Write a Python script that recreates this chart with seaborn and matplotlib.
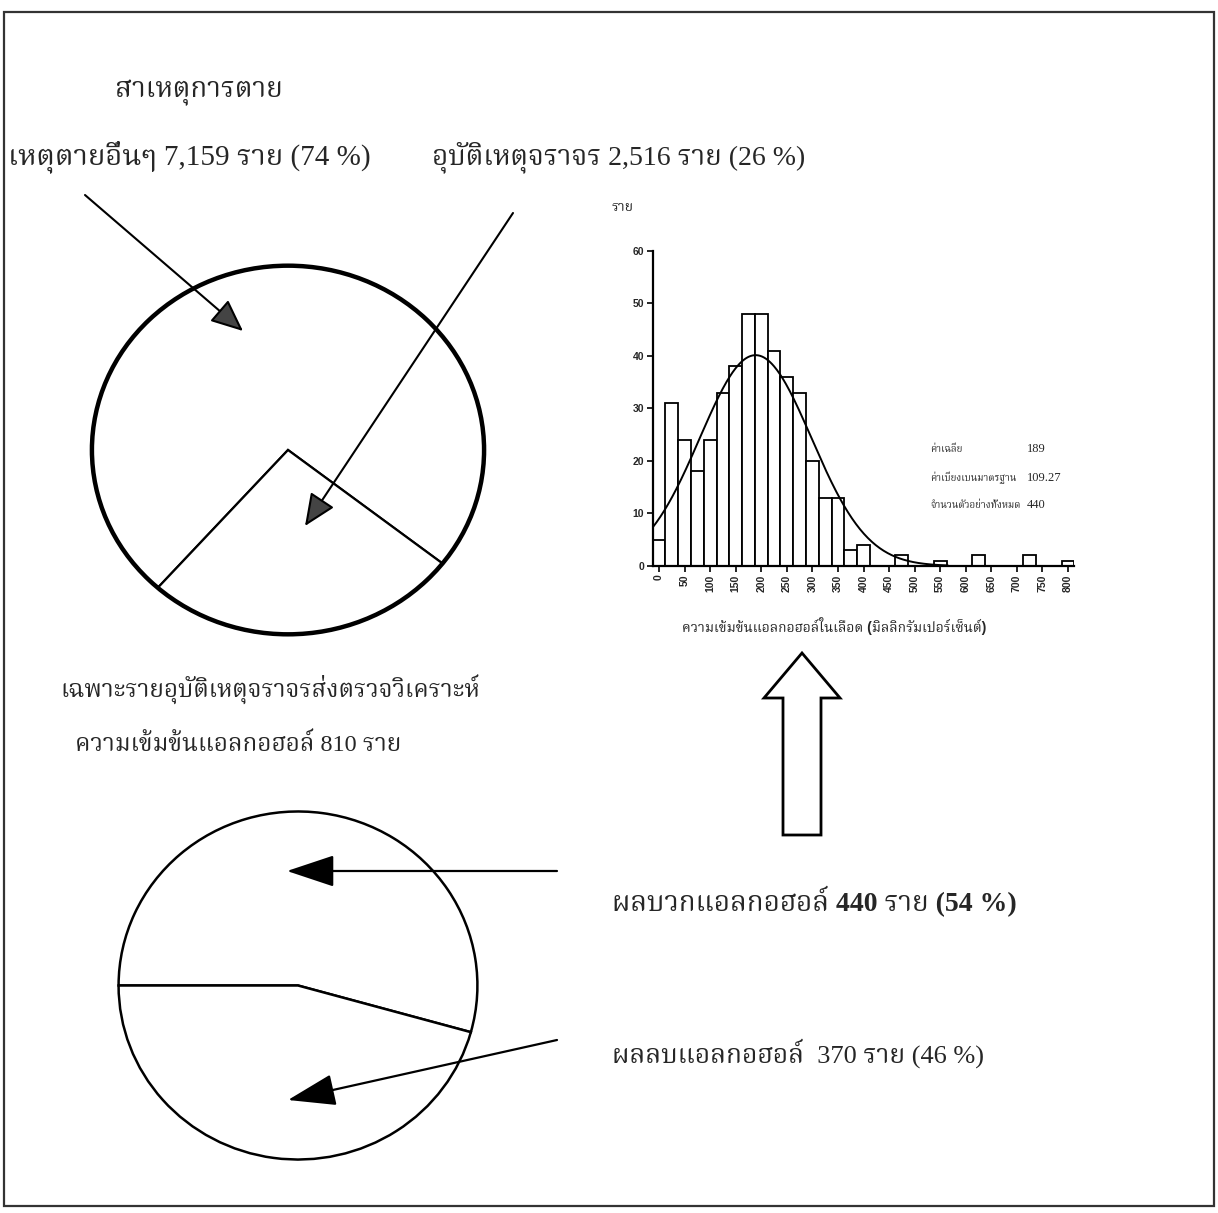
import numpy as np
import matplotlib
matplotlib.use("Agg")
import matplotlib.pyplot as plt
import seaborn as sns
from matplotlib import font_manager
from matplotlib.ft2font import FT2Font
from matplotlib.patches import Rectangle, Circle, FancyArrow

# causes of death (top pie)
death_labels = ["เหตุตายอื่นๆ", "อุบัติเหตุจราจร"]
death_counts = [7159, 2516]
death_pct = [74, 26]

# alcohol test among traffic deaths (bottom pie)
test_labels = ["ผลบวกแอลกอฮอล์", "ผลลบแอลกอฮอล์"]
test_counts = [440, 370]
test_pct = [54, 46]
tested_total = 810

# blood alcohol histogram: bar midpoints (mg%) and counts
bac_mid = [0, 25, 50, 75, 100, 125, 150, 175, 200, 225, 250, 275, 300, 325, 350, 375, 400,
           425, 450, 475, 500, 525, 550, 575, 600, 625, 650, 675, 700, 725, 750, 775, 800]
bac_count = [5, 31, 24, 18, 24, 33, 38, 48, 48, 41, 36, 33, 20, 13, 13, 3, 4,
             0, 0, 2, 0, 0, 1, 0, 0, 2, 0, 0, 0, 2, 0, 0, 1]
bac_mean = 189
bac_sd = 109.27
bac_n = 440
bin_w = 25

y_ticks = [0, 10, 20, 30, 40, 50, 60]
x_ticks = list(range(0, 801, 50))


def find_thai_font():
    # look for any installed font that has Thai glyphs
    names = []
    for f in font_manager.fontManager.ttflist:
        try:
            if 0x0E01 in FT2Font(f.fname).get_charmap():
                names.append(f.name)
        except Exception:
            pass
    for pref in ["Laksaman", "TH Sarabun New", "Norasi", "Kinnari", "Noto Serif Thai",
                 "Garuda", "Loma", "Noto Sans Thai"]:
        if pref in names:
            return pref
    return names[0] if names else "DejaVu Sans"


sns.set_theme(style="white")
thai = find_thai_font()
serif_fam = ["Liberation Serif", thai, "DejaVu Sans"]
sans_fam = ["Liberation Sans", thai, "DejaVu Sans"]
plt.rcParams["font.family"] = serif_fam

W, H = 1218, 1213
fig = plt.figure(figsize=(W / 100, H / 100), dpi=100)
fig.patch.set_facecolor("white")


def px_box(x0, y0, x1, y1):
    # pixel box (top-left origin) -> figure fraction rect
    return [x0 / W, 1 - y1 / H, (x1 - x0) / W, (y1 - y0) / H]


# ---- top pie ----
pax = fig.add_axes(px_box(88, 262, 488, 638))
pax.pie(death_counts, startangle=-38, counterclock=True, radius=1,
        wedgeprops=dict(facecolor="white", edgecolor="black", linewidth=1.6))
pax.add_patch(Circle((0, 0), 1, fill=False, ec="black", lw=3.2))
pax.set_aspect("auto")
pax.set_xlim(-1.02, 1.02)
pax.set_ylim(-1.02, 1.02)
pax.axis("off")

# ---- bottom pie ----
bax = fig.add_axes(px_box(115, 808, 481, 1163))
bax.pie(test_counts, startangle=180, counterclock=False, radius=1,
        wedgeprops=dict(facecolor="white", edgecolor="black", linewidth=1.8))
bax.set_aspect("auto")
bax.set_xlim(-1.02, 1.02)
bax.set_ylim(-1.02, 1.02)
bax.axis("off")

# ---- histogram ----
hax = fig.add_axes(px_box(652.6, 251, 1074.4, 566))
sns.histplot(x=bac_mid, weights=bac_count, binwidth=bin_w, binrange=(-12.5, 812.5),
             color="white", edgecolor="black", linewidth=1.3, alpha=1, ax=hax)
xs = np.linspace(-12.5, 565, 300)
ys = bac_n * bin_w * np.exp(-0.5 * ((xs - bac_mean) / bac_sd) ** 2) / (bac_sd * np.sqrt(2 * np.pi))
sns.lineplot(x=xs, y=ys, color="black", linewidth=1.4, ax=hax)
hax.set_xlim(-12.5, 812.5)
hax.set_ylim(0, 60)
hax.set_xticks(x_ticks)
hax.set_yticks(y_ticks)
hax.set_xticklabels([str(t) for t in x_ticks], rotation=90, family="Liberation Sans",
                    fontsize=7.5, fontweight="bold")
hax.set_yticklabels([str(t) for t in y_ticks], family="Liberation Sans",
                    fontsize=7.5, fontweight="bold")
hax.set_xlabel("")
hax.set_ylabel("")
hax.tick_params(direction="out", length=4, width=1.2, color="black", pad=2,
                bottom=True, left=True)
sns.despine(ax=hax)
for s in ["left", "bottom"]:
    hax.spines[s].set_color("black")
    hax.spines[s].set_linewidth(1.6)
hax.patch.set_alpha(0)

# ---- overlay for text, arrows and frame ----
ov = fig.add_axes([0, 0, 1, 1])
ov.set_xlim(0, W)
ov.set_ylim(H, 0)
ov.axis("off")
ov.patch.set_alpha(0)

ov.add_patch(Rectangle((4, 12), 1210, 1194, fill=False, ec="#333333", lw=1.6))

ov.text(115, 93, "สาเหตุการตาย", fontsize=20, ha="left", va="center")
ov.text(8, 157, f"{death_labels[0]} {death_counts[0]:,} ราย ({death_pct[0]} %)",
        fontsize=21, ha="left", va="center")
ov.text(432, 157, f"{death_labels[1]} {death_counts[1]:,} ราย ({death_pct[1]} %)",
        fontsize=20, ha="left", va="center")

ov.text(60, 690, "เฉพาะรายอุบัติเหตุจราจรส่งตรวจวิเคราะห์", fontsize=17.5, ha="left", va="center")
ov.text(75, 745, f"ความเข้มข้นแอลกอฮอล์ {tested_total} ราย", fontsize=17.5, ha="left", va="center")

ov.text(612, 902, f"{test_labels[0]} {test_counts[0]} ราย ({test_pct[0]} %)",
        fontsize=20, fontweight="bold", ha="left", va="center")
ov.text(612, 1053, f"{test_labels[1]}  {test_counts[1]} ราย ({test_pct[1]} %)",
        fontsize=19, ha="left", va="center")

# histogram labels
ov.text(622, 207, "ราย", fontsize=10, ha="center", va="center", family=sans_fam, fontweight="bold")
ov.text(834, 626, "ความเข้มข้นแอลกอฮอล์ในเลือด (มิลลิกรัมเปอร์เซ็นต์)", fontsize=10,
        ha="center", va="center", family=sans_fam, fontweight="bold")
stat_names = ["ค่าเฉลี่ย", "ค่าเบี่ยงเบนมาตรฐาน", "จำนวนตัวอย่างทั้งหมด"]
stat_vals = [f"{bac_mean}", f"{bac_sd:.2f}", f"{bac_n}"]
for yy, nm, vv in zip([449, 478, 505], stat_names, stat_vals):
    ov.text(930, yy, nm, fontsize=7, ha="left", va="center", family=sans_fam, fontweight="bold")
    ov.text(1027, yy, vv, fontsize=9, ha="left", va="center")

# arrows into the top pie
thin = dict(arrowstyle="-|>,head_length=0.8,head_width=0.35", mutation_scale=25,
            lw=1.5, edgecolor="black", facecolor="#444444", shrinkA=0, shrinkB=0)
ov.annotate("", xy=(243, 331), xytext=(85, 195), arrowprops=thin)
ov.annotate("", xy=(305, 526), xytext=(513, 213), arrowprops=thin)

# arrows into the bottom pie
bold = dict(arrowstyle="-|>,head_length=1.2,head_width=0.4", mutation_scale=25,
            lw=1.6, color="black", shrinkA=0, shrinkB=0)
ov.annotate("", xy=(287, 871), xytext=(557, 871), arrowprops=bold)
ov.annotate("", xy=(288, 1100), xytext=(557, 1040), arrowprops=bold)

# hollow up arrow from test results to histogram
ov.add_patch(FancyArrow(802, 835, 0, -182, width=38, head_width=76, head_length=45,
                        length_includes_head=True, fill=False, ec="black", lw=2))

fig.savefig("out.png", dpi=100, facecolor="white")
